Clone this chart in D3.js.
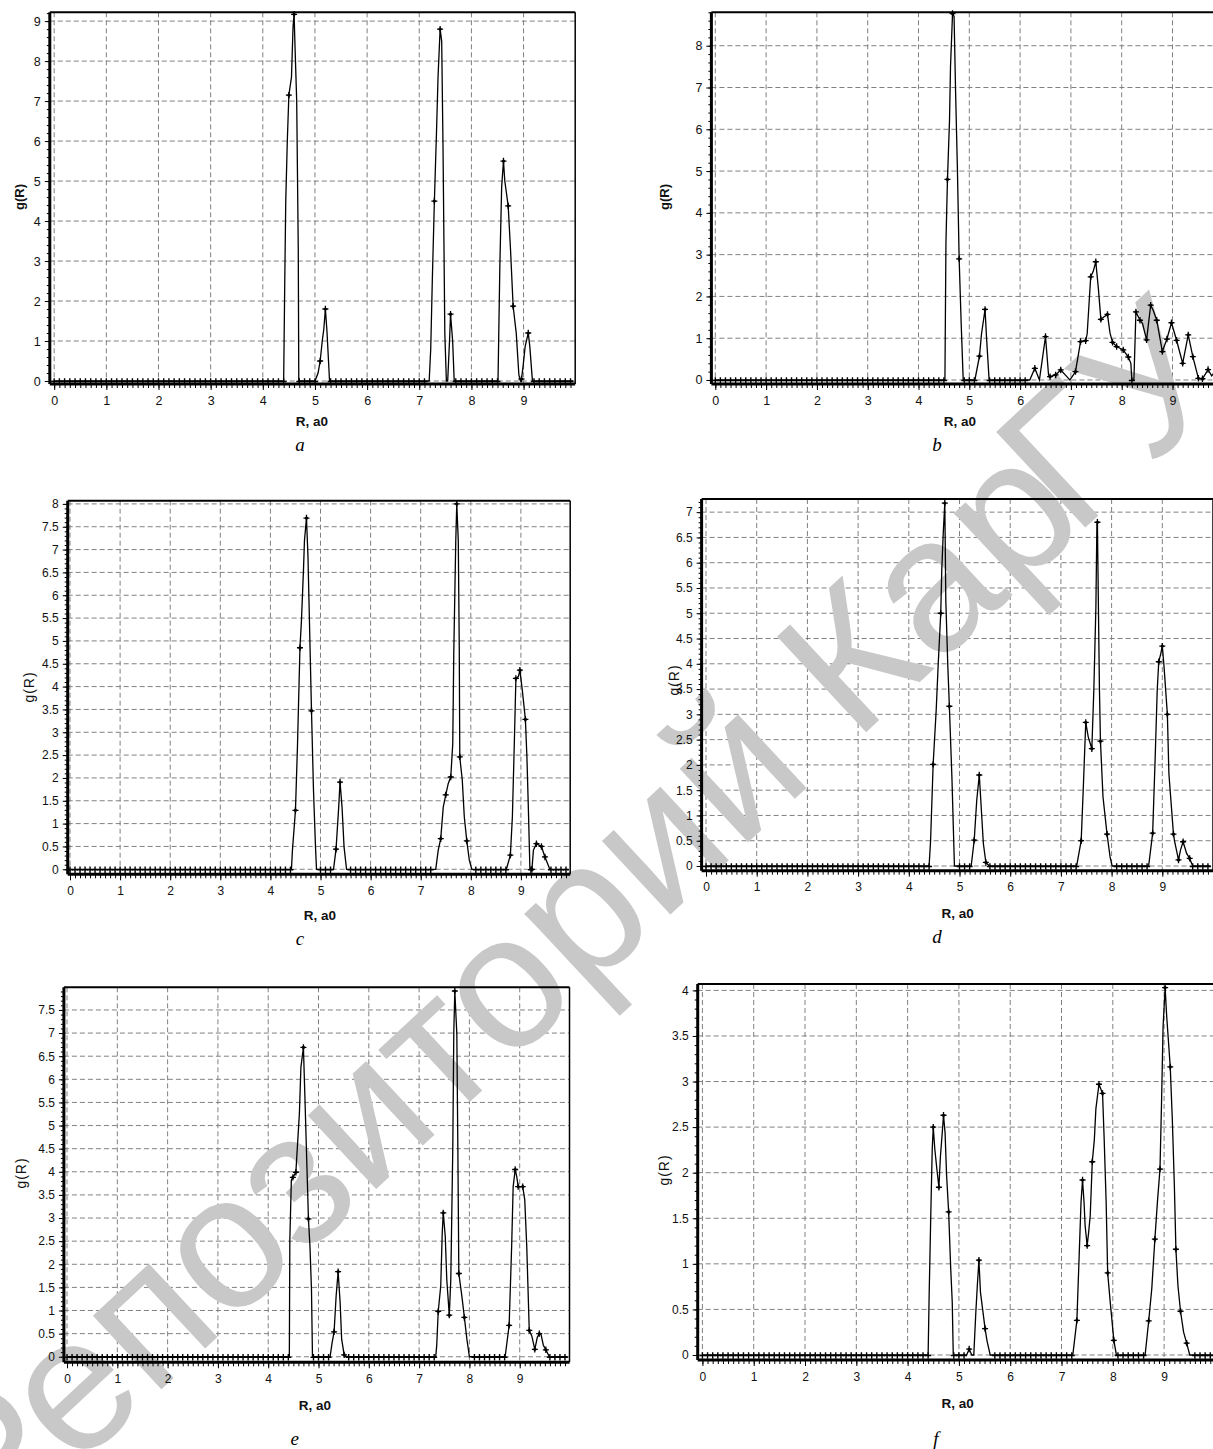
<!DOCTYPE html>
<html><head><meta charset="utf-8">
<script src="https://cdnjs.cloudflare.com/ajax/libs/d3/7.8.5/d3.min.js"></script>
<style>body{margin:0;background:#fff}svg{display:block}</style>
</head><body>
<svg id="fig" width="1213" height="1449"></svg>
<script>
// ---------- data ----------
const xTickValues = [0,1,2,3,4,5,6,7,8,9];
const xTickLabels = ["0","1","2","3","4","5","6","7","8","9"];
const yTicksA = [0,1,2,3,4,5,6,7,8,9];
const yTicksB = [0,1,2,3,4,5,6,7,8];
const yTicksC = [0,0.5,1,1.5,2,2.5,3,3.5,4,4.5,5,5.5,6,6.5,7,7.5,8];
const yTicksD = [0,0.5,1,1.5,2,2.5,3,3.5,4,4.5,5,5.5,6,6.5,7];
const yTicksE = [0,0.5,1,1.5,2,2.5,3,3.5,4,4.5,5,5.5,6,6.5,7,7.5];
const yTicksF = [0,0.5,1,1.5,2,2.5,3,3.5,4];
const captions = ["a","b","c","d","e","f"];
const xTitle = "R, a0";
const yTitle = "g(R)";
const watermarkA = "Репозиторий Кар";
const watermarkB = "ГУ";

// g(R) curves: [R, g] vertices of the non-zero parts (elsewhere g = 0)
const lineA = [
[4.40,0],[4.42,2.36],[4.44,4.5],[4.47,6.0],[4.50,7.15],[4.55,7.6],[4.58,8.86],[4.60,9.17],[4.62,8.27],[4.65,7.0],[4.68,3.3],[4.69,0],
[5.00,0],[5.06,0.2],[5.10,0.5],[5.14,1.0],[5.17,1.3],[5.20,1.8],[5.23,1.25],[5.26,0.5],[5.28,0],
[7.19,0],[7.22,0.8],[7.25,2.5],[7.29,4.5],[7.33,6.2],[7.36,7.6],[7.40,8.8],[7.43,8.5],[7.455,5.9],[7.49,1.2],[7.52,0],
[7.545,0],[7.58,1.0],[7.60,1.67],[7.64,1.0],[7.67,0],
[8.51,0],[8.545,2.86],[8.58,4.86],[8.615,5.5],[8.64,5.0],[8.705,4.38],[8.75,3.28],[8.80,1.87],[8.86,1.19],[8.91,0.15],[8.94,0],
[8.96,0.05],[8.99,0.36],[9.03,0.86],[9.09,1.2],[9.12,0.86],[9.17,0]];
const marksA = [[4.50,7.15],[4.60,9.17],[5.10,0.5],[5.20,1.8],[7.29,4.5],[7.40,8.8],[7.60,1.67],[8.615,5.5],[8.705,4.38],[8.80,1.87],[8.96,0.05],[9.09,1.2]];

const lineB = [
[4.52,0],[4.54,3.27],[4.57,4.8],[4.61,6.2],[4.63,7.5],[4.67,8.77],[4.70,8.7],[4.73,6.9],[4.765,5.1],[4.80,2.9],[4.84,1.35],[4.88,0],
[5.11,0],[5.20,0.57],[5.24,1.1],[5.31,1.69],[5.34,1.0],[5.39,0],
[6.19,0],[6.29,0.28],[6.38,0],[6.50,1.04],[6.56,0.12],[6.59,0.08],[6.70,0.12],[6.80,0.24],[6.92,0.08],[6.98,0],
[7.09,0.2],[7.19,0.92],[7.29,0.94],[7.32,1.1],[7.39,2.47],[7.44,2.6],[7.49,2.83],[7.54,2.2],[7.59,1.45],[7.64,1.5],[7.72,1.57],[7.77,1.12],[7.82,0.9],[7.90,0.8],[8.03,0.72],[8.13,0.55],[8.18,0.4],[8.20,0],
[8.24,0],[8.28,1.63],[8.36,1.43],[8.41,1.35],[8.49,0.96],[8.57,1.79],[8.62,1.67],[8.69,1.43],[8.80,0.68],[8.89,0.98],[8.98,1.37],[9.08,0.95],[9.20,0.4],[9.31,1.08],[9.40,0.56],[9.51,0.04],[9.59,0.03],[9.70,0.25],[9.77,0.1],[9.85,0.22],[9.95,0]];
const marksB = [[4.57,4.8],[4.67,8.77],[4.80,2.9],[5.20,0.57],[5.31,1.69],[6.29,0.28],[6.50,1.04],[6.59,0.08],[6.70,0.12],[6.80,0.24],[7.09,0.2],[7.19,0.92],[7.29,0.94],[7.39,2.47],[7.49,2.83],[7.59,1.45],[7.72,1.57],[7.82,0.9],[7.90,0.8],[8.03,0.72],[8.13,0.55],[8.28,1.63],[8.36,1.43],[8.49,0.96],[8.57,1.79],[8.69,1.43],[8.80,0.68],[8.89,0.98],[8.98,1.37],[9.08,0.95],[9.20,0.4],[9.31,1.08],[9.40,0.56],[9.51,0.04],[9.59,0.03],[9.70,0.25]];

const lineC = [
[4.42,0],[4.44,0.42],[4.50,1.29],[4.54,2.68],[4.59,4.85],[4.62,5.45],[4.66,6.55],[4.68,7.2],[4.72,7.69],[4.75,6.84],[4.78,5.4],[4.82,3.47],[4.86,1.73],[4.90,0.49],[4.92,0],
[5.26,0],[5.31,0.44],[5.36,1.3],[5.39,1.91],[5.43,1.36],[5.47,0.49],[5.52,0],
[7.30,0],[7.35,0.42],[7.40,0.67],[7.45,1.36],[7.50,1.63],[7.55,1.88],[7.60,2.02],[7.64,2.75],[7.66,4.72],[7.70,7.2],[7.72,8.0],[7.75,7.2],[7.77,4.8],[7.78,2.46],[7.83,1.95],[7.87,1.15],[7.92,0.62],[7.97,0.2],[8.02,0],
[8.71,0],[8.79,0.31],[8.83,1.15],[8.87,2.82],[8.90,4.18],[8.95,4.22],[8.98,4.36],[9.03,3.9],[9.09,3.28],[9.12,2.46],[9.15,1.29],[9.18,0],
[9.22,0],[9.25,0.42],[9.28,0.49],[9.31,0.56],[9.41,0.5],[9.48,0.27],[9.57,0.02],[9.60,0]];
const marksC = [[4.50,1.29],[4.59,4.85],[4.72,7.69],[4.82,3.47],[5.31,0.44],[5.39,1.91],[7.40,0.67],[7.50,1.63],[7.60,2.02],[7.72,8.0],[7.78,2.46],[7.92,0.62],[8.79,0.31],[8.90,4.18],[8.98,4.36],[9.09,3.28],[9.22,0],[9.31,0.56],[9.41,0.5],[9.48,0.27]];

const lineD = [
[4.40,0],[4.43,0.51],[4.48,2.01],[4.54,3.08],[4.58,3.99],[4.63,5.0],[4.65,5.85],[4.68,6.6],[4.71,7.18],[4.73,5.25],[4.77,3.94],[4.80,3.16],[4.85,1.76],[4.90,0],
[5.23,0],[5.29,0.51],[5.34,1.3],[5.39,1.8],[5.42,1.3],[5.47,0.45],[5.52,0.07],[5.59,0],
[7.31,0],[7.40,0.5],[7.44,1.5],[7.49,2.84],[7.54,2.55],[7.61,2.32],[7.65,3.5],[7.69,5.12],[7.71,6.75],[7.72,6.8],[7.74,5.12],[7.76,3.5],[7.78,2.47],[7.83,1.37],[7.91,0.63],[7.97,0.18],[8.01,0],
[8.73,0],[8.81,0.65],[8.86,2.16],[8.90,3.48],[8.93,4.04],[8.97,4.2],[9.00,4.35],[9.03,4.0],[9.10,3.0],[9.13,1.83],[9.22,0.63],[9.25,0.45],[9.32,0.12],[9.36,0.32],[9.41,0.48],[9.48,0.25],[9.54,0.15],[9.60,0]];
const marksD = [[4.48,2.01],[4.63,5.0],[4.71,7.18],[4.80,3.16],[5.29,0.51],[5.39,1.8],[5.52,0.07],[7.40,0.5],[7.49,2.84],[7.61,2.32],[7.72,6.8],[7.78,2.47],[7.91,0.63],[8.81,0.65],[8.93,4.04],[9.00,4.35],[9.10,3.0],[9.22,0.63],[9.32,0.12],[9.41,0.48],[9.54,0.15]];

const lineE = [
[4.42,0],[4.43,2.53],[4.46,3.82],[4.49,3.88],[4.55,3.99],[4.58,4.54],[4.62,5.26],[4.65,6.26],[4.70,6.69],[4.73,5.6],[4.77,4.1],[4.80,2.98],[4.83,2.39],[4.86,1.46],[4.88,0],
[5.23,0],[5.27,0.3],[5.31,0.54],[5.35,1.31],[5.39,1.84],[5.43,1.17],[5.46,0.38],[5.51,0.04],[5.55,0],
[7.33,0],[7.35,0.24],[7.38,0.98],[7.43,1.53],[7.46,2.68],[7.48,3.11],[7.52,2.6],[7.55,1.67],[7.60,0.9],[7.63,1.67],[7.67,4.54],[7.69,7.05],[7.71,7.91],[7.75,6.98],[7.77,4.54],[7.79,1.8],[7.85,1.31],[7.90,0.85],[7.95,0.38],[8.00,0],
[8.71,0],[8.79,0.68],[8.84,2.39],[8.87,3.68],[8.91,4.05],[8.94,3.9],[8.97,3.68],[9.06,3.68],[9.10,3.4],[9.14,2.39],[9.19,0.57],[9.24,0.45],[9.30,0.16],[9.35,0.42],[9.39,0.5],[9.42,0.5],[9.47,0.25],[9.52,0.15],[9.59,0]];
const marksE = [[4.49,3.88],[4.55,3.99],[4.70,6.69],[4.80,2.98],[5.31,0.54],[5.39,1.84],[5.51,0.04],[7.38,0.98],[7.48,3.11],[7.60,0.9],[7.71,7.91],[7.79,1.8],[7.90,0.85],[8.79,0.68],[8.91,4.05],[8.97,3.68],[9.06,3.68],[9.19,0.57],[9.30,0.16],[9.39,0.5],[9.52,0.15]];

const lineF = [
[4.40,0],[4.42,0.66],[4.45,1.49],[4.48,2.26],[4.50,2.50],[4.53,2.26],[4.57,2.04],[4.61,1.84],[4.64,2.18],[4.67,2.4],[4.70,2.63],[4.73,2.44],[4.76,1.97],[4.80,1.57],[4.84,0.95],[4.87,0.58],[4.89,0],
[5.15,0],[5.20,0.065],[5.25,0],
[5.29,0],[5.33,0.47],[5.36,0.77],[5.39,1.04],[5.42,0.69],[5.51,0.29],[5.55,0.15],[5.61,0],
[7.22,0],[7.30,0.38],[7.34,1.02],[7.38,1.67],[7.41,1.92],[7.44,1.67],[7.46,1.42],[7.50,1.2],[7.53,1.35],[7.56,1.53],[7.60,2.12],[7.64,2.36],[7.67,2.7],[7.73,2.97],[7.80,2.87],[7.83,2.4],[7.87,1.68],[7.90,0.9],[7.95,0.58],[8.02,0.16],[8.07,0],
[8.63,0],[8.70,0.375],[8.76,0.73],[8.82,1.27],[8.87,1.68],[8.92,2.04],[8.95,2.77],[8.98,3.6],[9.02,4.03],[9.05,3.72],[9.12,3.16],[9.16,2.59],[9.20,1.86],[9.23,1.16],[9.27,0.76],[9.32,0.48],[9.38,0.25],[9.44,0.13],[9.50,0]];
const marksF = [[4.50,2.50],[4.61,1.84],[4.70,2.63],[4.80,1.57],[5.20,0.065],[5.39,1.04],[5.51,0.29],[7.30,0.38],[7.41,1.92],[7.50,1.2],[7.60,2.12],[7.73,2.97],[7.80,2.87],[7.90,0.9],[8.02,0.16],[8.70,0.375],[8.82,1.27],[8.92,2.04],[9.02,4.03],[9.12,3.16],[9.23,1.16],[9.32,0.48],[9.44,0.13]];

const rStart = 0, rEnd = 9.95, baseStep = 0.1;

// ---------- layout ----------
const panels = [
 {line:lineA, marks:marksA, yTicks:yTicksA, yMinor:0.2, box:{l:49.8,r:575.2,t:12.3,b:384}, xDom:[-0.084,9.99], yDom:[-0.075,9.22],
  yT:{x:19,y:197,bold:true}, xT:{x:312,y:421}, cap:{x:300,y:446}, fs:12.5},
 {line:lineB, marks:marksB, yTicks:yTicksB, yMinor:0.2, box:{l:711.4,r:1223.3,t:12.3,b:384}, xDom:[-0.077,10.0], yDom:[-0.096,8.80],
  yT:{x:664.5,y:197,bold:true}, xT:{x:960,y:421}, cap:{x:937,y:446}, fs:12.5},
 {line:lineC, marks:marksC, yTicks:yTicksC, yMinor:0.1, box:{l:67.7,r:570.2,t:500.7,b:874.3}, xDom:[-0.046,9.984], yDom:[-0.11,8.07],
  yT:{x:28.7,y:687,bold:false}, xT:{x:320,y:915}, cap:{x:300,y:940}, fs:12},
 {line:lineD, marks:marksD, yTicks:yTicksD, yMinor:0.1, box:{l:701.6,r:1213,t:499,b:870.7}, xDom:[-0.087,10.0], yDom:[-0.093,7.26],
  yT:{x:674,y:680,bold:false}, xT:{x:957.7,y:913}, cap:{x:937,y:938}, fs:12},
 {line:lineE, marks:marksE, yTicks:yTicksE, yMinor:0.1, box:{l:63.9,r:569.5,t:987.3,b:1362.3}, xDom:[-0.062,9.99], yDom:[-0.12,7.99],
  yT:{x:21,y:1173,bold:false}, xT:{x:315,y:1405}, cap:{x:294.7,y:1440}, fs:12},
 {line:lineF, marks:marksF, yTicks:yTicksF, yMinor:0.1, box:{l:697.7,r:1215.4,t:984,b:1360}, xDom:[-0.092,10.0], yDom:[-0.055,4.07],
  yT:{x:664.5,y:1170,bold:false}, xT:{x:957.7,y:1403}, cap:{x:936,y:1440}, fs:12}
];

const fig = d3.select("#fig");
fig.append("rect").attr("width",1213).attr("height",1449).attr("fill","#fff");
const gGrid = fig.append("g");
const gWater = fig.append("g");
const gMain = fig.append("g");
const sans = "'Liberation Sans', Arial, sans-serif";

function valueAt(pts, r){
  for (let i=0;i<pts.length-1;i++){
    const a=pts[i], b=pts[i+1];
    if (r>=a[0] && r<=b[0]) return Math.max(a[1], b[1]);
  }
  return 0;
}
const plus = "M-3,0H3M0,-3.2V3.2";

panels.forEach((p,i)=>{
  const x = d3.scaleLinear().domain(p.xDom).range([p.box.l,p.box.r]);
  const y = d3.scaleLinear().domain(p.yDom).range([p.box.b,p.box.t]);
  const gg = gGrid.append("g").attr("stroke","#808080").attr("stroke-width",1).attr("stroke-dasharray","5,3");
  gg.selectAll("line.v").data(xTickValues).join("line").attr("class","v")
    .attr("x1",d=>x(d)).attr("x2",d=>x(d)).attr("y1",p.box.t).attr("y2",p.box.b);
  gg.selectAll("line.h").data(p.yTicks).join("line").attr("class","h")
    .attr("x1",p.box.l).attr("x2",p.box.r).attr("y1",d=>y(d)).attr("y2",d=>y(d));

  const g = gMain.append("g");
  const full = [[rStart,0], ...p.line, [rEnd,0]];
  g.append("path").datum(full)
    .attr("d", d3.line().x(d=>x(d[0])).y(d=>y(d[1])))
    .attr("fill","none").attr("stroke","#000").attr("stroke-width",1.3);
  const zeroR = d3.range(rStart, rEnd+1e-9, baseStep).filter(r=>valueAt(full,r)===0);
  g.append("g").selectAll("path").data(zeroR).join("path")
    .attr("transform",r=>`translate(${x(r)},${y(0)+0.5})`).attr("d",plus)
    .attr("stroke","#000").attr("stroke-width",1.4).attr("fill","none");
  const mg = g.append("g").selectAll("g").data(p.marks).join("g")
    .attr("transform",d=>`translate(${x(d[0])},${y(d[1])})`);
  mg.append("path").attr("d",plus).attr("stroke","#000").attr("stroke-width",1.3).attr("fill","none");
  mg.append("circle").attr("r",1.6).attr("fill","#000");

  g.append("line").attr("x1",p.box.l).attr("x2",p.box.r).attr("y1",p.box.t).attr("y2",p.box.t).attr("stroke","#000").attr("stroke-width",2);
  g.append("line").attr("x1",p.box.r).attr("x2",p.box.r).attr("y1",p.box.t).attr("y2",p.box.b).attr("stroke","#000").attr("stroke-width",1.5);

  const xMinor = d3.range(0, 10.0001, 0.1).filter(v=>v<=p.xDom[1]);
  const axM = g.append("g").attr("transform",`translate(0,${p.box.b})`)
    .call(d3.axisBottom(x).tickValues(xMinor).tickSize(4).tickFormat(""));
  axM.select(".domain").remove();
  axM.selectAll("line").attr("stroke","#000").attr("stroke-width",1);
  const ax = g.append("g").attr("transform",`translate(0,${p.box.b})`)
    .call(d3.axisBottom(x).tickValues(xTickValues).tickSize(6).tickPadding(6).tickFormat((d,k)=>xTickLabels[k]));
  ax.select(".domain").attr("stroke","#000").attr("stroke-width",3).attr("d",`M${p.box.l},0H${p.box.r}`);
  ax.selectAll("line").attr("stroke","#000");
  ax.selectAll("text").attr("font-family",sans).attr("font-size",p.fs).attr("fill","#111");

  const yMinor = d3.range(0, p.yDom[1]+1e-9, p.yMinor);
  const ayM = g.append("g").attr("transform",`translate(${p.box.l},0)`)
    .call(d3.axisLeft(y).tickValues(yMinor).tickSize(3).tickFormat(""));
  ayM.select(".domain").remove();
  ayM.selectAll("line").attr("stroke","#000").attr("stroke-width",1);
  const ay = g.append("g").attr("transform",`translate(${p.box.l},0)`)
    .call(d3.axisLeft(y).tickValues(p.yTicks).tickSize(5).tickPadding(4).tickFormat(d=>String(d)));
  ay.select(".domain").attr("stroke","#000").attr("stroke-width",3).attr("d",`M0,${p.box.t}V${p.box.b}`);
  ay.selectAll("line").attr("stroke","#000");
  ay.selectAll("text").attr("font-family",sans).attr("font-size",p.fs).attr("fill","#111");

  g.append("text").attr("transform",`translate(${p.yT.x},${p.yT.y}) rotate(-90)`)
    .attr("text-anchor","middle").attr("dy","0.35em")
    .attr("font-family",sans).attr("font-size",p.yT.bold?13:14).attr("font-weight",p.yT.bold?"bold":"normal")
    .attr("letter-spacing",p.yT.bold?0:1).attr("fill","#111").text(yTitle);
  g.append("text").attr("x",p.xT.x).attr("y",p.xT.y).attr("dy","0.35em").attr("text-anchor","middle")
    .attr("font-family",sans).attr("font-size",13.5).attr("font-weight","bold").attr("fill","#111").text(xTitle);
  g.append("text").attr("x",p.cap.x).attr("y",p.cap.y).attr("dy","0.25em").attr("text-anchor","middle")
    .attr("font-family","'Liberation Serif', 'Times New Roman', serif").attr("font-style","italic")
    .attr("font-size",19).attr("fill","#000").text(captions[i]);
});

// watermark
const wm = gWater.append("text")
  .attr("transform","translate(-12,1551) rotate(-43)")
  .attr("font-family",sans).attr("font-size",190).attr("fill","#c8c8c8");
wm.append("tspan").text(watermarkA);
wm.append("tspan").attr("dx",-22).text(watermarkB);
</script>
</body></html>
